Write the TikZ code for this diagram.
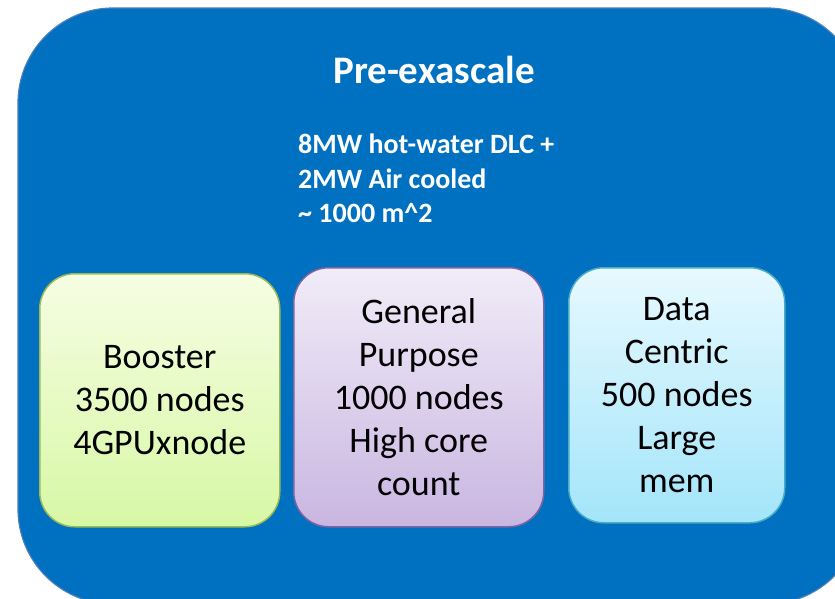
\documentclass[tikz,border=0pt]{standalone}
\usepackage{fontspec}
\setmainfont{Carlito}
\definecolor{slideblue}{HTML}{0070C0}
\definecolor{slideedge}{HTML}{4A7EBB}
\definecolor{boostertop}{HTML}{F6FDE3}
\definecolor{boosterbot}{HTML}{D7F8A5}
\definecolor{boosteredge}{HTML}{9BBB59}
\definecolor{gptop}{HTML}{F1ECF8}
\definecolor{gpbot}{HTML}{C9B6E1}
\definecolor{gpedge}{HTML}{8064A2}
\definecolor{dctop}{HTML}{E7F9FE}
\definecolor{dcbot}{HTML}{A3E5FA}
\definecolor{dcedge}{HTML}{4BACC6}
\tikzset{partition/.style = {draw, line width = 1.5pt, rounded corners = 35pt, anchor = north west, align = center, font = \fontsize{36}{43}\selectfont}}

\begin{document}
\begin{tikzpicture}[x = 1pt, y = -1pt]
\useasboundingbox (0, 0) rectangle (835, 598);
\clip (0, 0) rectangle (835, 598);

% the machine room, runs off the page at right and bottom
\draw[fill = slideblue, draw = slideedge, line width = 1.2pt, rounded corners = 95pt] (18, 8) rectangle (862, 604);

\node (title) [text = white, font = \fontsize{39}{46}\selectfont\bfseries, anchor = base] at (434, 83) {Pre-exascale};

\node (power) [text = white, font = \fontsize{28}{34.5}\selectfont\bfseries, align = left, anchor = north west, inner sep = 0pt] at (298, 134) {8MW hot-water DLC +\\2MW Air cooled\\\textasciitilde{} 1000 m\textasciicircum{}2};

\node (booster) [partition, top color = boostertop, bottom color = boosterbot, draw = boosteredge, minimum width = 240pt, minimum height = 253pt] at (39, 273) {Booster\\3500 nodes\\4GPUxnode};

\node (general) [partition, top color = gptop, bottom color = gpbot, draw = gpedge, minimum width = 250pt, minimum height = 259pt] at (293, 267) {General\\Purpose\\1000 nodes\\High core\\count};

\node (datacentric) [partition, top color = dctop, bottom color = dcbot, draw = dcedge, minimum width = 216pt, minimum height = 255pt] at (568, 267) {Data\\Centric\\500 nodes\\Large\\mem};

\end{tikzpicture}
\end{document}
